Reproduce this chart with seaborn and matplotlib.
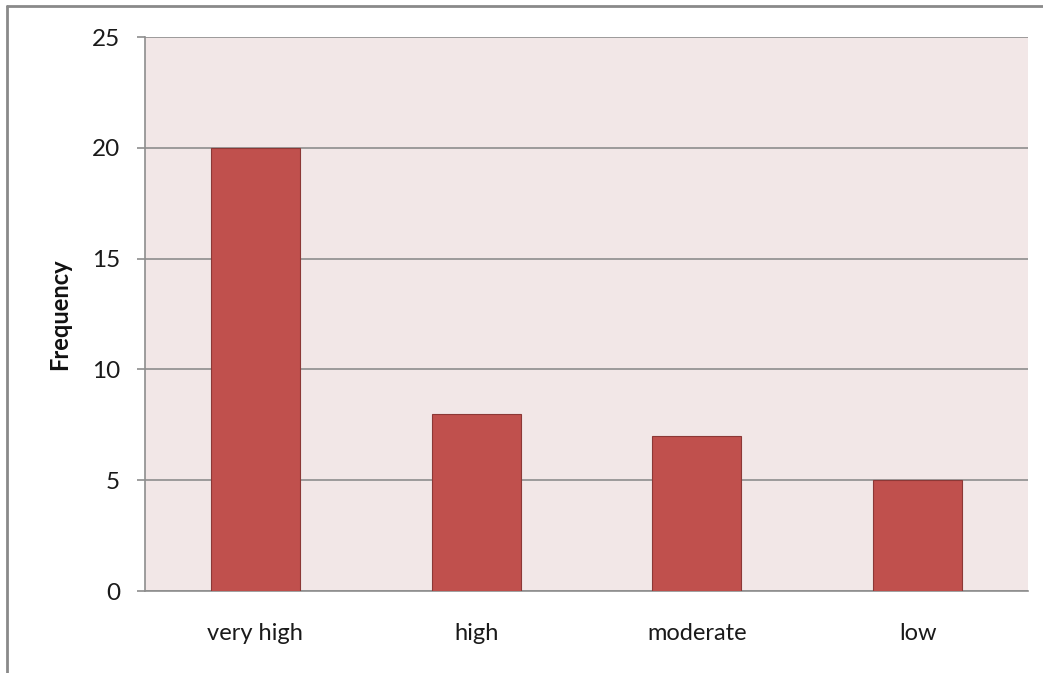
import matplotlib
matplotlib.use("Agg")
import matplotlib.pyplot as plt
import seaborn as sns
import pandas as pd
from matplotlib.lines import Line2D

categories = ["very high", "high", "moderate", "low"]
frequency = [20, 8, 7, 5]
y_ticks = [0, 5, 10, 15, 20, 25]

df = pd.DataFrame({"level": categories, "Frequency": frequency})

sns.set_theme(style="white")
plt.rcParams["font.family"] = ["Lato", "DejaVu Sans"]

fig = plt.figure(figsize=(10.43, 6.73), dpi=100)
ax = fig.add_axes([145 / 1043, 1 - 591 / 673, (1028 - 145) / 1043, (591 - 37) / 673])
ax.set_facecolor("#F2E7E7")

sns.barplot(data=df, x="level", y="Frequency", order=categories,
            color="#C0504D", saturation=1, width=0.403,
            edgecolor="#8C3836", linewidth=0.8, ax=ax, zorder=3)

ax.set_ylim(0, 25)
ax.set_xlim(-0.5, len(categories) - 0.5)
ax.set_yticks(y_ticks)
ax.set_yticklabels([str(t) for t in y_ticks])
ax.yaxis.grid(True, color="#8E8E8E", linewidth=1.2, zorder=1)
ax.set_axisbelow(True)

for side in ["top", "right"]:
    ax.spines[side].set_visible(False)
ax.spines["left"].set_color("#8E8E8E")
ax.spines["left"].set_linewidth(1.2)
ax.spines["bottom"].set_color("#8E8E8E")
ax.spines["bottom"].set_linewidth(1.2)

ax.tick_params(axis="y", which="major", length=6, width=1.2, color="#8E8E8E",
               pad=12, labelsize=17.5, labelcolor="#1a1a1a", left=True)
ax.tick_params(axis="x", length=0, pad=23, labelsize=17, labelcolor="#1a1a1a")

ax.set_xlabel("")
ax.set_ylabel("Frequency", fontsize=17, fontweight="bold", color="#111111", labelpad=15)

# Outer frame along the left and top edges
fig.add_artist(Line2D([7 / 1043, 7 / 1043], [0, 1 - 6 / 673],
                      transform=fig.transFigure, color="#8A8A8A", linewidth=2))
fig.add_artist(Line2D([7 / 1043, 1], [1 - 6 / 673, 1 - 6 / 673],
                      transform=fig.transFigure, color="#8A8A8A", linewidth=2))

fig.savefig("out.png", dpi=100, facecolor="white")
